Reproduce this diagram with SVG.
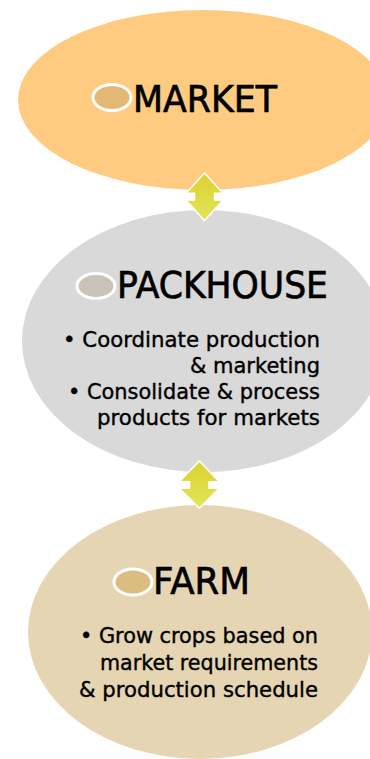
<svg xmlns="http://www.w3.org/2000/svg" width="370" height="759" viewBox="0 0 370 759">
<defs>
<linearGradient id="ag" x1="0" y1="0" x2="0" y2="1">
<stop offset="0" stop-color="#dcd12f"/>
<stop offset="1" stop-color="#e2e55a"/>
</linearGradient>
<style>
.title{font-family:"DejaVu Sans","Liberation Sans",sans-serif;font-size:37px;fill:#000;stroke:#000;stroke-width:0.7;}
.body{font-family:"DejaVu Sans","Liberation Sans",sans-serif;font-size:22px;fill:#000;stroke:#000;stroke-width:0.4;}
.dot{stroke:#fff;stroke-width:3;}
.arrow{fill:url(#ag);stroke:#fff;stroke-width:1.5;stroke-linejoin:miter;}
</style>
</defs>
<rect width="370" height="759" fill="#fff"/>
<g id="market">
<ellipse cx="203" cy="100" rx="185" ry="90" fill="#fecb80"/>
<ellipse class="dot" cx="112" cy="97.5" rx="19" ry="13" fill="#e3b874"/>
<text class="title" x="133" y="112" textLength="144" lengthAdjust="spacingAndGlyphs">MARKET</text>
</g>
<g id="packhouse">
<ellipse cx="204" cy="341" rx="182" ry="131" fill="#d9d9d9"/>
<ellipse class="dot" cx="96" cy="286" rx="19" ry="12.5" fill="#c9c3b8"/>
<text class="title" x="117" y="298" textLength="211" lengthAdjust="spacingAndGlyphs">PACKHOUSE</text>
<text class="body" x="63" y="347" textLength="257" lengthAdjust="spacingAndGlyphs">• Coordinate production</text>
<text class="body" x="190" y="373" textLength="130" lengthAdjust="spacingAndGlyphs">&amp; marketing</text>
<text class="body" x="68" y="399" textLength="252" lengthAdjust="spacingAndGlyphs">• Consolidate &amp; process</text>
<text class="body" x="97" y="425" textLength="223" lengthAdjust="spacingAndGlyphs">products for markets</text>
</g>
<g id="farm">
<ellipse cx="200" cy="632" rx="172" ry="127" fill="#e5d5b3"/>
<ellipse class="dot" cx="133" cy="582" rx="19" ry="13" fill="#dbbd80"/>
<text class="title" x="153" y="594" textLength="97" lengthAdjust="spacingAndGlyphs">FARM</text>
<text class="body" x="80" y="643" textLength="238" lengthAdjust="spacingAndGlyphs">• Grow crops based on</text>
<text class="body" x="100" y="670" textLength="218" lengthAdjust="spacingAndGlyphs">market requirements</text>
<text class="body" x="79" y="697" textLength="239" lengthAdjust="spacingAndGlyphs">&amp; production schedule</text>
</g>
<g id="connectors">
<path class="arrow" d="M204.5,173 L223,193.3 L214.5,193.3 L214.5,200 L223,200 L204.5,220.7 L186,200 L194.5,200 L194.5,193.3 L186,193.3 Z"/>
<path class="arrow" d="M199.3,461 L219.3,481.7 L209,481.7 L209,488.3 L219.3,488.3 L199.3,508.3 L179.3,488.3 L189.5,488.3 L189.5,481.7 L179.3,481.7 Z"/>
</g>
</svg>
